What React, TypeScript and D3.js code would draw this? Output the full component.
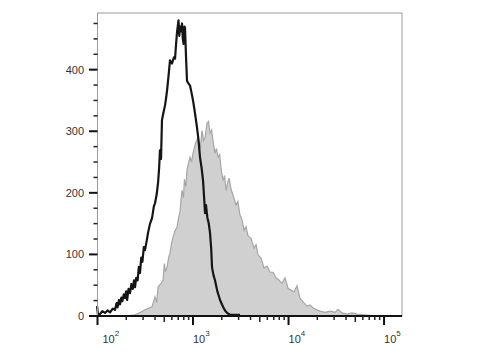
import React from "react";
import * as d3 from "d3";

// Isotype control (black line): log10 fluorescence, event count
const ctrlLog = [1.995, 2.005, 2.026, 2.05, 2.079, 2.105, 2.131, 2.16, 2.183, 2.2, 2.21, 2.225, 2.236, 2.25, 2.26, 2.275, 2.288, 2.3, 2.31, 2.325, 2.34, 2.355, 2.37, 2.382, 2.393, 2.405, 2.42, 2.433, 2.445, 2.458, 2.47, 2.485, 2.497, 2.515, 2.529, 2.55, 2.571, 2.59, 2.602, 2.62, 2.634, 2.645, 2.654, 2.665, 2.675, 2.69, 2.707, 2.72, 2.728, 2.745, 2.759, 2.78, 2.8, 2.812, 2.822, 2.832, 2.848, 2.856, 2.864, 2.875, 2.885, 2.893, 2.901, 2.91, 2.916, 2.927, 2.937, 2.95, 2.969, 2.985, 3.0, 3.02, 3.042, 3.058, 3.073, 3.09, 3.105, 3.115, 3.126, 3.136, 3.15, 3.165, 3.178, 3.19, 3.199, 3.215, 3.23, 3.255, 3.283, 3.3, 3.314, 3.335, 3.356, 3.387, 3.44, 3.492];
const ctrlCount = [16, 2, 3, 8, 5, 9, 6, 12, 10, 21, 14, 26, 19, 30, 24, 35, 29, 40, 26, 44, 37, 52, 44, 58, 47, 62, 58, 80, 70, 95, 88, 112, 107, 122, 135, 150, 159, 178, 183, 198, 216, 240, 269, 255, 318, 330, 342, 356, 366, 392, 415, 410, 420, 418, 440, 460, 480, 455, 470, 462, 475, 450, 442, 470, 468, 420, 382, 378, 374, 362, 350, 330, 306, 285, 258, 240, 220, 195, 167, 180, 160, 150, 135, 110, 79, 66, 58, 40, 26, 20, 15, 9, 5, 2, 2, 2];

// Stained sample (grey filled): log10 fluorescence, event count
const sampleLog = [2.15, 2.288, 2.393, 2.45, 2.497, 2.571, 2.602, 2.62, 2.634, 2.66, 2.686, 2.7, 2.71, 2.728, 2.745, 2.759, 2.775, 2.791, 2.81, 2.832, 2.85, 2.864, 2.875, 2.885, 2.9, 2.91, 2.925, 2.937, 2.955, 2.969, 2.985, 3.0, 3.025, 3.052, 3.075, 3.094, 3.11, 3.126, 3.147, 3.162, 3.178, 3.195, 3.209, 3.23, 3.245, 3.262, 3.28, 3.293, 3.314, 3.33, 3.346, 3.36, 3.377, 3.4, 3.419, 3.45, 3.47, 3.492, 3.51, 3.534, 3.555, 3.576, 3.607, 3.639, 3.66, 3.681, 3.712, 3.743, 3.775, 3.806, 3.838, 3.869, 3.901, 3.932, 3.963, 3.995, 4.026, 4.058, 4.089, 4.12, 4.152, 4.194, 4.225, 4.257, 4.298, 4.33, 4.382, 4.435, 4.487, 4.518, 4.56, 4.612, 4.665, 4.717, 4.78, 4.853, 4.916];
const sampleCount = [0, 0, 2, 6, 10, 15, 31, 22, 47, 52, 58, 85, 72, 79, 95, 102, 118, 128, 138, 144, 160, 169, 190, 204, 192, 222, 210, 237, 250, 258, 250, 264, 280, 290, 270, 301, 285, 290, 313, 316, 297, 302, 285, 264, 272, 258, 262, 240, 220, 228, 204, 215, 224, 205, 196, 180, 186, 164, 158, 139, 145, 130, 126, 110, 116, 99, 94, 78, 81, 71, 71, 62, 58, 53, 62, 45, 42, 39, 49, 29, 23, 16, 18, 13, 10, 8, 6, 8, 6, 11, 5, 3, 5, 3, 2, 1, 0];

const yTicks = [0, 100, 200, 300, 400];
const yMinor = [25, 50, 75, 125, 150, 175, 225, 250, 275, 325, 350, 375, 425, 450, 475];
const xDecades = [2, 3, 4, 5];

export default function App() {
  const W = 480, H = 360;
  const left = 97.5, right = 402, top = 13, bottom = 316;
  const x = d3.scaleLog().domain([100, Math.pow(10, 5.188)]).range([left, right]);
  const y = d3.scaleLinear().domain([0, 492]).range([bottom, top]);

  const ctrl = ctrlLog.map((e, i) => [Math.pow(10, e), ctrlCount[i]] as [number, number]);
  const sample = sampleLog.map((e, i) => [Math.pow(10, e), sampleCount[i]] as [number, number]);

  const line = d3.line<[number, number]>().x(d => x(d[0])).y(d => y(d[1])).curve(d3.curveLinear);
  const area = d3.area<[number, number]>().x(d => x(d[0])).y0(y(0)).y1(d => y(d[1])).curve(d3.curveLinear);

  const minorX: { v: number; len: number }[] = [];
  for (const d of [2, 3, 4]) {
    for (let k = 2; k <= 9; k++) {
      minorX.push({ v: k * Math.pow(10, d), len: k === 5 ? 6 : 4 });
    }
  }

  const font = "Liberation Sans, Arial, sans-serif";

  return (
    <svg width={W} height={H} style={{ position: "absolute", left: 0, top: 0, background: "#fff" }} fontFamily={font}>
      <rect x={0} y={0} width={W} height={H} fill="#fff" />
      <path d={area(sample) || ""} fill="#d0d0d0" stroke="#a6a6a6" strokeWidth={1.2} />
      <path d={line(ctrl) || ""} fill="none" stroke="#151515" strokeWidth={2.2} strokeLinejoin="round" />
      {/* frame */}
      <rect x={left} y={top} width={right - left} height={bottom - top} fill="none" stroke="#9a9a9a" strokeWidth={1} />
      <line x1={left} x2={right} y1={bottom} y2={bottom} stroke="#111" strokeWidth={2} />
      {/* y ticks */}
      {yTicks.map(t => (
        <g key={"y" + t}>
          <line x1={left - 8.5} x2={left} y1={y(t)} y2={y(t)} stroke="#111" strokeWidth={2} />
          <text x={84} y={y(t) + 4} textAnchor="end" fontSize={11} fill="#333">{t}</text>
        </g>
      ))}
      {yMinor.map(t => (
        <line key={"ym" + t} x1={left - 4} x2={left} y1={y(t)} y2={y(t)} stroke="#222" strokeWidth={1.5} />
      ))}
      {/* x ticks */}
      {xDecades.map(d => (
        <g key={"x" + d}>
          <line x1={x(Math.pow(10, d))} x2={x(Math.pow(10, d))} y1={bottom} y2={bottom + 9} stroke="#111" strokeWidth={2} />
          <text x={x(Math.pow(10, d)) + (d === 2 ? 5 : 0)} y={343} fontSize={11} fill="#333">
            10<tspan dy={-7} fontSize={8}>{d}</tspan>
          </text>
        </g>
      ))}
      {minorX.map((m, i) => (
        <line key={"xm" + i} x1={x(m.v)} x2={x(m.v)} y1={bottom} y2={bottom + m.len} stroke="#222" strokeWidth={1.5} />
      ))}
    </svg>
  );
}
